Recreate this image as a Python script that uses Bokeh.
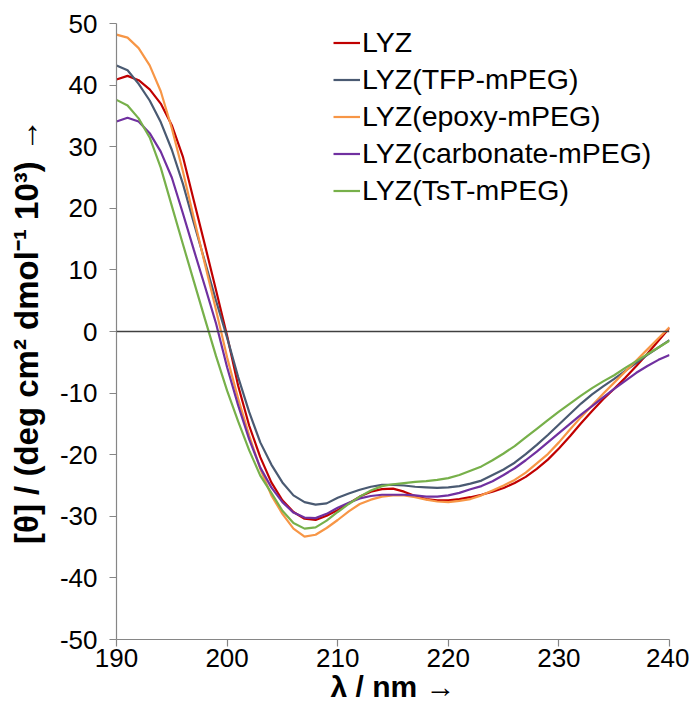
from bokeh.plotting import figure
from bokeh.models import Range1d, Span, Legend, LegendItem, FixedTicker
from bokeh.embed import file_html
from bokeh.resources import INLINE

wavelength = list(range(190, 241))

lyz = [40.9, 41.5, 40.8, 39.3, 37.0, 33.5, 28.4, 21.2, 14.0, 6.7,
       -0.7, -8.8, -15.3, -20.4, -24.5, -27.4, -29.3, -30.4, -30.6, -29.9,
       -29.0, -27.9, -26.8, -26.0, -25.6, -25.5, -26.0, -26.7, -27.2, -27.4,
       -27.4, -27.2, -26.9, -26.5, -26.0, -25.4, -24.6, -23.6, -22.3, -20.8,
       -19.0, -17.0, -14.9, -12.9, -11.0, -9.3, -7.5, -5.6, -3.6, -1.5, 0.6]

lyz_tfp = [43.2, 42.4, 40.2, 37.5, 34.0, 29.5, 24.0, 17.6, 11.3, 5.0,
           -1.0, -7.4, -13.1, -18.0, -21.6, -24.5, -26.6, -27.7, -28.1, -27.9,
           -27.0, -26.3, -25.7, -25.2, -24.9, -24.9, -25.0, -25.2, -25.3, -25.4,
           -25.3, -25.1, -24.7, -24.2, -23.3, -22.4, -21.3, -19.9, -18.4, -16.8,
           -15.1, -13.4, -11.7, -10.2, -8.9, -7.7, -6.4, -5.1, -3.8, -2.6, -1.4]

lyz_epoxy = [48.2, 47.7, 46.0, 43.2, 39.0, 33.0, 26.0, 18.4, 10.9, 3.5,
             -4.2, -10.9, -16.9, -22.3, -26.6, -29.6, -32.0, -33.3, -33.0, -31.9,
             -30.6, -29.2, -28.0, -27.3, -26.8, -26.6, -26.6, -26.9, -27.3, -27.6,
             -27.7, -27.5, -27.2, -26.6, -25.8, -25.0, -24.1, -22.9, -21.4, -19.9,
             -18.0, -15.9, -13.9, -12.0, -10.1, -8.3, -6.5, -4.7, -2.9, -1.1, 0.7]

lyz_carbonate = [34.1, 34.7, 34.1, 32.2, 29.2, 25.0, 19.2, 13.2, 7.3, 1.3,
                 -5.8, -12.0, -17.5, -22.1, -25.3, -27.7, -29.4, -30.2, -30.3, -29.6,
                 -28.6, -27.8, -27.1, -26.7, -26.5, -26.5, -26.5, -26.6, -26.8, -26.8,
                 -26.6, -26.2, -25.6, -25.1, -24.3, -23.3, -22.2, -20.9, -19.5, -18.0,
                 -16.5, -15.0, -13.5, -12.1, -10.7, -9.3, -8.0, -6.7, -5.6, -4.6, -3.8]

lyz_tst = [37.6, 36.7, 34.6, 31.5, 26.6, 20.4, 14.2, 8.1, 2.0, -4.0,
           -9.6, -14.6, -19.3, -23.4, -26.2, -29.1, -31.1, -32.0, -31.8, -30.7,
           -29.3, -28.0, -26.8, -25.8, -25.1, -24.8, -24.6, -24.4, -24.3, -24.1,
           -23.8, -23.3, -22.6, -21.9, -20.9, -19.8, -18.6, -17.2, -15.8, -14.4,
           -13.0, -11.7, -10.4, -9.2, -8.1, -7.1, -5.9, -4.8, -3.7, -2.6, -1.5]

series_names = ["LYZ", "LYZ(TFP-mPEG)", "LYZ(epoxy-mPEG)", "LYZ(carbonate-mPEG)", "LYZ(TsT-mPEG)"]
series_values = [lyz, lyz_tfp, lyz_epoxy, lyz_carbonate, lyz_tst]
series_colors = ["#C00000", "#4A5A72", "#F79646", "#7030A0", "#77B04A"]

x_ticks = [190, 200, 210, 220, 230, 240]
y_ticks = [-50, -40, -30, -20, -10, 0, 10, 20, 30, 40, 50]
y_tick_labels = ["-50", "-40", "-30", "-20", "-10", "0", "10", "20", "30", "40", "50"]

FONT = "Liberation Sans"

p = figure(width=689, height=710, output_backend="svg", toolbar_location=None,
           frame_width=553, frame_height=616,
           min_border_left=116, min_border_right=20, min_border_top=23, min_border_bottom=71,
           x_range=Range1d(190, 240), y_range=Range1d(-50, 50))
p.outline_line_color = None
p.grid.visible = False
p.background_fill_color = "white"
p.border_fill_color = "white"

p.add_layout(Span(location=0, dimension="width", line_color="#404040", line_width=1.5))

items = []
for name, vals, col in zip(series_names, series_values, series_colors):
    r = p.line(wavelength, vals, line_color=col, line_width=2.2)
    items.append(LegendItem(label=name, renderers=[r]))

for ax in (p.xaxis[0], p.yaxis[0]):
    ax.axis_line_color = "#868686"
    ax.axis_line_width = 1.2
    ax.major_tick_line_color = "#868686"
    ax.major_tick_line_width = 1.2
    ax.major_tick_out = 7
    ax.major_tick_in = 0
    ax.minor_tick_line_color = None
    ax.major_label_text_font = FONT
    ax.major_label_text_font_size = "26px"
    ax.major_label_text_color = "black"
    ax.axis_label_text_font = FONT
    ax.axis_label_text_font_style = "bold"
    ax.axis_label_text_color = "black"

p.xaxis[0].axis_label_text_font_size = "30px"
p.yaxis[0].axis_label_text_font_size = "33px"
p.xaxis[0].ticker = FixedTicker(ticks=x_ticks)
p.yaxis[0].ticker = FixedTicker(ticks=y_ticks)
p.yaxis[0].major_label_overrides = dict(zip(y_ticks, y_tick_labels))
p.xaxis[0].axis_label = "λ / nm →"
p.yaxis[0].axis_label = "[θ] / (deg cm² dmol⁻¹ 10³) →"
p.xaxis[0].major_label_standoff = 2
p.yaxis[0].major_label_standoff = 12
p.xaxis[0].axis_label_standoff = 0
p.yaxis[0].axis_label_standoff = 12

legend = Legend(items=items, location=(217, 430))
legend.background_fill_alpha = 0
legend.border_line_color = None
legend.padding = 0
legend.margin = 0
legend.spacing = 0
legend.glyph_width = 27
legend.glyph_height = 37
legend.label_height = 37
legend.label_standoff = 2
legend.label_text_font = FONT
legend.label_text_font_size = "28.5px"
legend.label_text_color = "black"
p.add_layout(legend)

open("out.html", "w").write(file_html(p, INLINE))
